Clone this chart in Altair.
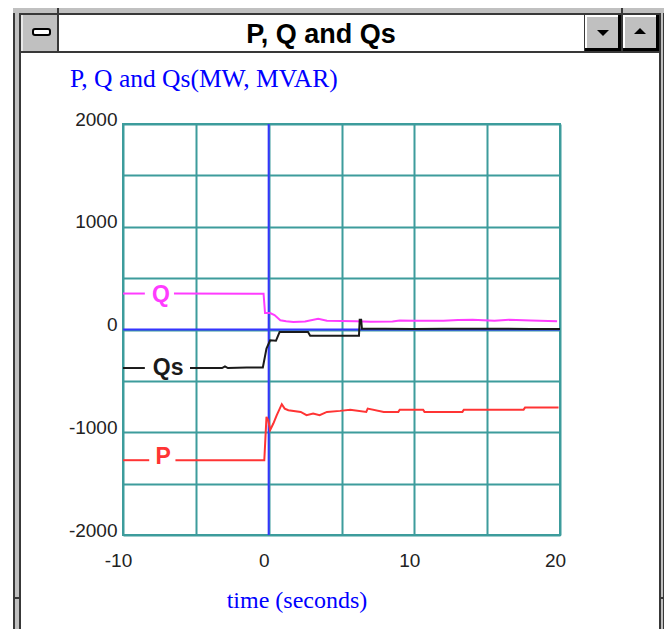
import altair as alt
import pandas as pd

# ---------------- data ----------------
series_names = ["Q", "Qs", "P"]
series_colors = ["#ff3cff", "#1a1a1a", "#ff3434"]

Q_t = [-10, -8.5, -6.5, -0.35, -0.25, 0.1, 0.4, 0.8, 1.2, 1.7, 2.5, 3.4, 4.0, 5.0, 6.0, 7.0,
       8.5, 9.0, 10.0, 12.0, 13.0, 14.0, 15.5, 16.5, 18.0, 19.8]
Q_v = [350, 350, 350, 348, 160, 160, 140, 90, 80, 74, 78, 105, 85, 82, 80, 76,
       78, 88, 85, 86, 92, 95, 86, 94, 88, 80]

Qs_t = [-10, -8.5, -5.4, -3.2, -3.0, -2.8, -1.5, -0.4, -0.15, 0.1, 0.5, 0.75, 1.0, 2.7, 2.85,
        6.2, 6.25, 6.35, 6.4, 8.0, 10.0, 12.0, 14.0, 16.0, 18.0, 20.0]
Qs_v = [-375, -375, -375, -375, -360, -375, -370, -370, -185, -105, -110, -25, -25, -25, -62,
        -62, 95, 95, 8, 8, 6, 8, 7, 8, 6, 4]

P_t = [-10, -8.2, -6.4, -0.3, -0.15, -0.03, 0.1, 0.32, 0.55, 0.9, 1.1, 1.35, 2.2, 2.6, 3.05,
       3.5, 4.0, 4.9, 5.6, 6.7, 6.8, 7.9, 8.9, 9.0, 10.6, 10.7, 13.3, 13.4, 17.5, 17.6, 19.9]
P_v = [-1272, -1272, -1272, -1272, -850, -885, -980, -915, -835, -727, -770, -786, -802, -834, -818,
       -834, -802, -792, -780, -802, -770, -802, -802, -780, -780, -802, -802, -780, -780, -760, -760]

# gaps in each line where its name is written (time range)
Q_gap = [-8.5, -6.5]
Qs_gap = [-8.5, -5.4]
P_gap = [-8.2, -6.4]

label_text = ["Q", "Qs", "P"]
label_t = [-7.4, -6.9, -7.25]
label_v = [350, -375, -1272]

x_ticks = [-10, -5, 0, 5, 10, 15, 20]
y_ticks = [-2000, -1500, -1000, -500, 0, 500, 1000, 1500, 2000]

title_text = "P, Q and Qs"
subtitle_text = "P, Q and Qs(MW, MVAR)"
xtitle_text = "time (seconds)"

# ---------------- build tables ----------------
rows = []
for name, ts, vs, gap in [("Q", Q_t, Q_v, Q_gap), ("Qs", Qs_t, Qs_v, Qs_gap), ("P", P_t, P_v, P_gap)]:
    for t, v in zip(ts, vs):
        if t <= gap[0]:
            rows.append(dict(series=name, t=t, v=v, seg=name + "_a"))
        if t >= gap[1]:
            rows.append(dict(series=name, t=t, v=v, seg=name + "_b"))
df = pd.DataFrame(rows)

TEAL = "#3d9c9c"
BLUE = "#3535ff"
GRAY = "#c0c0c0"
DARK = "#383838"

W, H = 437, 411
OX, OY = 123, 124  # screen position of plot origin

xs = alt.Scale(domain=[-10, 20], nice=False, zero=False)
ys = alt.Scale(domain=[-2000, 2000], nice=False, zero=False)
color = alt.Color("series:N", scale=alt.Scale(domain=series_names, range=series_colors), legend=None)

axis_common = dict(grid=True, gridColor=TEAL, gridWidth=2, gridOpacity=1, domain=False, ticks=False,
                   labelFont="Liberation Sans", labelFontSize=19, labelColor="#222222", title=None,
                   labelFlush=False, labelOverlap=False)
xaxis = alt.Axis(values=x_ticks, labelExpr="datum.value % 10 == 0 ? '' + datum.value : ''",
                 labelPadding=16, labelOffset=-5, **axis_common)
yaxis = alt.Axis(values=y_ticks, labelExpr="datum.value % 1000 == 0 ? '' + datum.value : ''",
                 labelPadding=6, labelOffset=-5, **axis_common)

one = alt.Data(values=[{"k": 1}])


def box(x1, y1, x2, y2, fill, **kw):
    return alt.Chart(one).mark_rect(color=fill, **kw).encode(
        x=alt.value(x1 - OX), x2=alt.value(x2 - OX),
        y=alt.value(y1 - OY), y2=alt.value(y2 - OY))


def txt(X, Y, text, **kw):
    return alt.Chart(one).mark_text(text=text, **kw).encode(
        x=alt.value(X - OX), y=alt.value(Y - OY))


chrome = [
    # left border band
    box(13, 8, 15, 629, DARK), box(15, 8, 19, 629, GRAY), box(19, 13, 21, 629, DARK),
    # right border band
    box(659, 13, 661, 629, DARK), box(661, 8, 663, 629, GRAY), box(663, 8, 664, 629, DARK),
    # top band
    box(13, 8, 664, 13, GRAY), box(19, 13, 661, 15, DARK),
    # notches
    box(57, 8, 59, 15, DARK), box(621, 8, 623, 15, DARK),
    box(13, 597, 21, 599, DARK), box(659, 597, 664, 599, DARK),
    # control box
    box(21, 15, 57, 51, GRAY), box(21, 15, 23, 51, "#e8e8e8"), box(57, 15, 59, 53, DARK),
    box(33, 29, 50, 35, "#ffffff", stroke="#000000", strokeWidth=2, cornerRadius=2),
    # buttons
    box(584, 15, 585, 51, DARK),
    box(585, 15, 621, 51, GRAY), box(585, 15, 618, 17, "#ffffff"), box(585, 15, 587, 48, "#ffffff"),
    box(618, 15, 621, 51, "#000000"), box(585, 48, 621, 51, "#000000"),
    box(621, 15, 623, 53, DARK),
    box(623, 15, 659, 51, GRAY), box(623, 15, 656, 17, "#ffffff"), box(623, 15, 625, 48, "#ffffff"),
    box(656, 15, 659, 51, "#000000"), box(623, 48, 659, 51, "#000000"),
    # title bar bottom line
    box(21, 51, 659, 53, DARK),
    alt.Chart(one).mark_point(shape="M-1,-0.5L1,-0.5L0,0.5Z", filled=True, color="#000000", opacity=1, size=144)
    .encode(x=alt.value(603 - OX), y=alt.value(33 - OY)),
    alt.Chart(one).mark_point(shape="M-1,0.5L1,0.5L0,-0.5Z", filled=True, color="#000000", opacity=1, size=144)
    .encode(x=alt.value(640 - OX), y=alt.value(31 - OY)),
    # texts
    txt(321, 43, title_text, font="Liberation Sans", fontSize=27, fontWeight="bold",
        color="#000000", align="center", baseline="alphabetic"),
    txt(70, 87, subtitle_text, font="Liberation Serif", fontSize=25.5, color="#0000ff",
        align="left", baseline="alphabetic"),
    txt(297, 608, xtitle_text, font="Liberation Serif", fontSize=24, color="#0000ff",
        align="center", baseline="alphabetic"),
]

base = alt.Chart(df).mark_line(strokeWidth=2, interpolate="linear").encode(
    x=alt.X("t:Q", scale=xs, axis=xaxis),
    y=alt.Y("v:Q", scale=ys, axis=yaxis),
    color=color,
    detail="seg:N",
)

zero_df = pd.DataFrame({"t": [0], "v": [0]})
hzero = alt.Chart(zero_df).mark_rule(color=BLUE, strokeWidth=2).encode(
    y=alt.Y("v:Q", scale=ys, axis=yaxis))
vzero = alt.Chart(zero_df).mark_rule(color=BLUE, strokeWidth=2).encode(
    x=alt.X("t:Q", scale=xs, axis=xaxis))

labels_df = pd.DataFrame({"series": series_names, "text": label_text, "t": label_t, "v": label_v})
label_dy = {"Q": 8, "Qs": 7, "P": 4}
label_layers = []
for nm in series_names:
    label_layers.append(
        alt.Chart(labels_df[labels_df.series == nm]).mark_text(
            font="Liberation Sans", fontSize=23, fontWeight="bold", baseline="alphabetic",
            align="center", dy=label_dy[nm]).encode(
            x=alt.X("t:Q", scale=xs, axis=xaxis), y=alt.Y("v:Q", scale=ys, axis=yaxis),
            text="text:N", color=color)
    )

chart = alt.layer(hzero, vzero, base, *label_layers, *chrome).properties(
    width=W, height=H,
    autosize=alt.AutoSizeParams(type="none"),
    padding={"left": 115, "top": 116, "right": 104, "bottom": 94},
    background="#ffffff",
).configure_view(stroke=TEAL, strokeWidth=2)

chart.save("out.html", embed_options={"renderer": "svg", "actions": False})
